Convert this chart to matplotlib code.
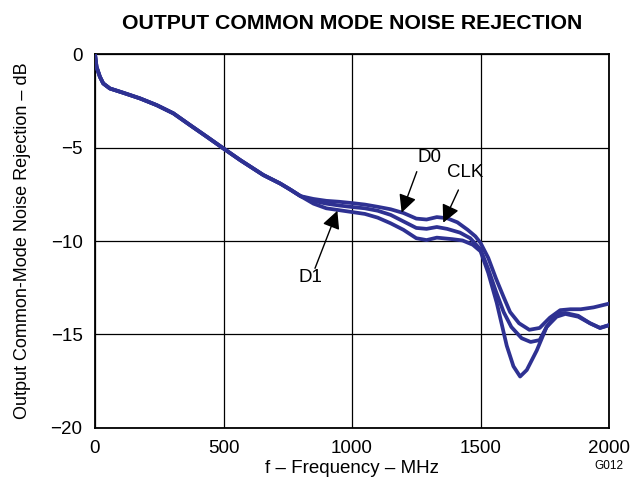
import matplotlib
matplotlib.use("Agg")
import matplotlib.pyplot as plt
import numpy as np

plt.rcParams['font.family'] = ['Liberation Sans', 'DejaVu Sans']

# shared low-frequency part (all three outputs track each other)
common_f = [0, 6, 19, 32, 58, 110, 175, 240, 305, 370, 435, 499, 565, 655, 720, 760]
common_db = [0, -0.68, -1.21, -1.57, -1.84, -2.07, -2.37, -2.73, -3.17, -3.80, -4.42,
             -5.04, -5.67, -6.47, -6.92, -7.25]

# top curve (shallow dip)
a_f = [800, 850, 900, 950, 1000, 1050, 1100, 1150, 1200, 1250, 1290, 1330, 1370, 1410,
       1450, 1480, 1500, 1530, 1560, 1590, 1615, 1650, 1690, 1730, 1770, 1810, 1850,
       1890, 1940, 1970, 2000]
a_db = [-7.6, -7.75, -7.85, -7.9, -7.97, -8.05, -8.17, -8.3, -8.5, -8.8, -8.85, -8.72,
        -8.78, -9.0, -9.4, -9.75, -10.1, -10.9, -12.0, -13.0, -13.8, -14.4, -14.75,
        -14.65, -14.1, -13.7, -13.65, -13.65, -13.55, -13.45, -13.35]

# middle curve
b_f = [800, 850, 900, 950, 1000, 1050, 1100, 1150, 1200, 1250, 1290, 1330, 1370, 1420,
       1460, 1500, 1530, 1560, 1590, 1620, 1660, 1695, 1730, 1757, 1796, 1830, 1880,
       1926, 1965, 2000]
b_db = [-7.6, -7.85, -8.0, -8.1, -8.18, -8.25, -8.38, -8.6, -8.95, -9.3, -9.35, -9.25,
        -9.35, -9.55, -9.85, -10.45, -11.5, -12.7, -13.8, -14.6, -15.2, -15.4, -15.3,
        -14.6, -14.05, -13.9, -14.05, -14.4, -14.65, -14.5]

# bottom curve (deep dip)
c_f = [800, 850, 900, 950, 1000, 1050, 1100, 1150, 1200, 1250, 1290, 1330, 1390, 1430,
       1470, 1500, 1530, 1563, 1602, 1628, 1654, 1680, 1719, 1757, 1796, 1830, 1880,
       1926, 1965, 2000]
c_db = [-7.6, -8.0, -8.25, -8.35, -8.45, -8.55, -8.75, -9.05, -9.4, -9.85, -9.95, -9.82,
        -9.9, -9.97, -10.2, -10.55, -11.7, -13.3, -15.6, -16.7, -17.25, -16.9, -15.85,
        -14.6, -13.9, -13.85, -14.0, -14.4, -14.65, -14.5]

x_ticks = [0, 500, 1000, 1500, 2000]
y_ticks = [0, -5, -10, -15, -20]
y_tick_labels = ['0', '\u22125', '\u221210', '\u221215', '\u221220']

line_color = '#2e3192'

fig = plt.figure(figsize=(6.44, 4.83), dpi=100)
ax = fig.add_axes([0.1475, 0.114, 0.7982, 0.774])

for f, db in [(a_f, a_db), (b_f, b_db), (c_f, c_db)]:
    ax.plot(common_f + f, common_db + db, color=line_color, lw=2.7,
            solid_joinstyle='round', solid_capstyle='round', zorder=3)

ax.set_xlim(0, 2000)
ax.set_ylim(-20, 0)
ax.set_xticks(x_ticks)
ax.set_yticks(y_ticks)
ax.set_yticklabels(y_tick_labels)
ax.tick_params(length=0, labelsize=13.5, pad=9)
ax.grid(True, color='black', lw=0.9)
for s in ax.spines.values():
    s.set_linewidth(1.3)

ax.set_xlabel('f \u2013 Frequency \u2013 MHz', fontsize=13.5, labelpad=2)
ax.set_ylabel('Output Common-Mode Noise Rejection \u2013 dB', fontsize=13, labelpad=14)
ax.set_title('OUTPUT COMMON MODE NOISE REJECTION', fontsize=15.3, fontweight='bold', pad=18)

# labels with arrows
arrow = dict(arrowstyle='-|>,head_length=0.6,head_width=0.3', mutation_scale=18,
             color='black', lw=1.0, shrinkA=0, shrinkB=0)
ax.annotate('', xy=(1193, -8.48), xytext=(1252, -6.29), arrowprops=arrow, zorder=4)
ax.text(1303, -5.51, 'D0', fontsize=13.5, ha='center', va='center')
ax.annotate('', xy=(1355, -9.02), xytext=(1414, -7.27), arrowprops=arrow, zorder=4)
ax.text(1440, -6.31, 'CLK', fontsize=13.5, ha='center', va='center')
ax.annotate('', xy=(943, -8.38), xytext=(856, -11.46), arrowprops=arrow, zorder=4)
ax.text(837, -11.93, 'D1', fontsize=13.5, ha='center', va='center')

fig.text(0.968, 0.022, 'G012', fontsize=8.5, ha='right', va='bottom')

fig.savefig('out.png', dpi=100)
